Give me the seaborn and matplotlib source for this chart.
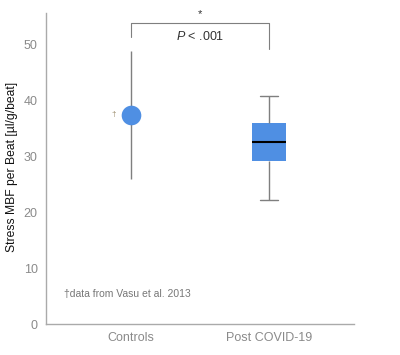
import matplotlib
matplotlib.use("Agg")
import matplotlib.pyplot as plt
import numpy as np
import pandas as pd
import seaborn as sns

# values
groups = ["Controls", "Post COVID-19"]
controls_mean = 37.5
controls_range = [26.0, 49.0]
# five-number summary of the post COVID-19 box (min, Q1, median, Q3, max)
post_covid = [22.3, 29.2, 32.6, 36.0, 40.8]
yticks = [0, 10, 20, 30, 40, 50]

blue = "#4F8FE3"
grey = "#7f7f7f"

sns.set_style("white")
plt.rcParams["font.family"] = ["Liberation Sans", "DejaVu Sans"]
plt.rcParams["mathtext.fontset"] = "custom"
plt.rcParams["mathtext.it"] = "Liberation Sans:italic"

df = pd.DataFrame({"group": "Post COVID-19", "mbf": post_covid})

fig, ax = plt.subplots(figsize=(4.0, 3.55), dpi=100)
sns.boxplot(data=df, x="group", y="mbf", order=groups, width=0.25,
            color=blue, saturation=1, whis=1.5, ax=ax,
            boxprops=dict(facecolor=blue, edgecolor=blue, linewidth=0),
            medianprops=dict(color="black", linewidth=1.5),
            whiskerprops=dict(color=grey, linewidth=1),
            capprops=dict(color=grey, linewidth=1),
            capwidths=0.13, showfliers=False)

# controls: mean with range line
ax.vlines(0, controls_range[0], controls_range[1], color=grey, linewidth=1, zorder=2)
sns.scatterplot(x=[0], y=[controls_mean], s=200, color=blue, edgecolor=blue,
                linewidth=0, zorder=3, ax=ax)
ax.text(-0.13, controls_mean, "\u2020", ha="center", va="center", fontsize=6, color="#9a8a6a")

# significance bracket
ax.plot([0, 0, 1, 1], [51.5, 53.9, 53.9, 49.2], color=grey, linewidth=0.8)
ax.text(0.5, 54.6, "*", ha="center", va="bottom", fontsize=8, color="#333333")
ax.text(0.5, 51.6, "$P$ < .001", ha="center", va="center", fontsize=9, color="#333333")

ax.text(-0.49, 5.4, "\u2020data from Vasu et al. 2013", ha="left", va="center",
        fontsize=7.5, color="#777777")

ax.set_xlim(-0.62, 1.62)
ax.set_ylim(0, 55.7)
ax.set_yticks(yticks)
ax.set_xlabel("")
ax.set_ylabel("Stress MBF per Beat [\u00b5l/g/beat]", fontsize=8.7, color="#111111")
ax.yaxis.set_label_coords(-0.092, 0.505)
ax.tick_params(axis="both", length=0, labelsize=9, labelcolor="#8a8a8a", pad=6)
for s in ["top", "right"]:
    ax.spines[s].set_visible(False)
for s in ["left", "bottom"]:
    ax.spines[s].set_color("#aaaaaa")
    ax.spines[s].set_linewidth(1)

fig.subplots_adjust(left=0.115, right=0.885, bottom=0.087, top=0.963)
fig.savefig("out.png", dpi=100)
